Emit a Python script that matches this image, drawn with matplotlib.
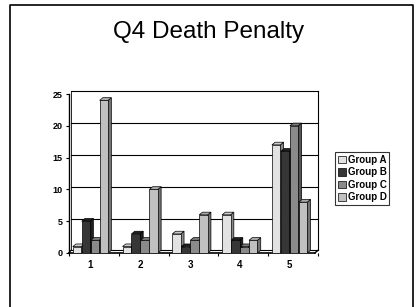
import numpy as np
import matplotlib.pyplot as plt
from matplotlib.lines import Line2D
from matplotlib.patches import Patch

# data
categories = ['1', '2', '3', '4', '5']
group_a = [1, 1, 3, 6, 17]
group_b = [5, 3, 1, 2, 16]
group_c = [2, 2, 2, 1, 20]
group_d = [24, 10, 6, 2, 8]
series_names = ['Group A', 'Group B', 'Group C', 'Group D']
y_ticks = [0, 5, 10, 15, 20, 25]

plt.rcParams['font.family'] = ['Liberation Sans', 'DejaVu Sans']

colors = ['#e2e2e2', '#363636', '#8a8a8a', '#c0c0c0']
offsets = [-0.27, -0.09, 0.09, 0.27]
width = 0.17
dx, dy = 0.065, 0.42   # fake 3d depth in data units


def shade(c, f):
    rgb = np.array(plt.matplotlib.colors.to_rgb(c))
    return np.clip(rgb * f, 0, 1)


fig = plt.figure(figsize=(4.17, 3.07), dpi=100)

# slide border
fig.add_artist(Line2D([10/417, 10/417, 413/417, 413/417], [0, 1 - 5/307, 1 - 5/307, 0],
                      transform=fig.transFigure, color='black', lw=1.2))

fig.text(0.5, 1 - 38/307, 'Q4 Death Penalty', ha='center', va='baseline', fontsize=17.5)

ax = fig.add_axes([69/417, 54/307, 249/417, 159/307])
x = np.arange(len(categories))
xmin, xmax = -0.43, 4.57
ax.set_xlim(xmin, xmax)
ax.set_ylim(0, 25)

# back wall gridlines
for t in y_ticks:
    ax.plot([xmin + dx * 0.6, xmax], [t + dy, t + dy], color='black', lw=0.8, clip_on=False, zorder=1)
ax.plot([xmin, xmin + dx * 0.6], [0, dy], color='black', lw=0.8, clip_on=False, zorder=1)
ax.plot([xmin + dx * 0.6, xmin + dx * 0.6], [dy, 25 + dy], color='black', lw=0.6, clip_on=False, zorder=1)
ax.plot([xmax, xmax], [dy, 25 + dy], color='black', lw=0.8, clip_on=False, zorder=1)
# floor
ax.plot([xmin, xmax - dx], [0, 0], color='black', lw=1.2, clip_on=False, zorder=2)
ax.plot([xmax - dx, xmax], [0, dy], color='black', lw=1.0, clip_on=False, zorder=2)

all_vals = [group_a, group_b, group_c, group_d]
z = 3
for vals, off, col in zip(all_vals, offsets, colors):
    for xi, v in zip(x, vals):
        left = xi + off - width / 2
        right = left + width
        # side face
        ax.fill([right, right + dx, right + dx, right], [0, dy, v + dy, v],
                color=shade(col, 0.6), ec='black', lw=0.5, zorder=z, clip_on=False)
        # top face
        ax.fill([left, left + dx, right + dx, right], [v, v + dy, v + dy, v],
                color=shade(col, 0.9) if col != '#363636' else '#202020',
                ec='black', lw=0.5, zorder=z, clip_on=False)
        # front face
        ax.bar(xi + off, v, width=width, color=col, edgecolor='black', lw=0.5, zorder=z + 0.5)
    z += 1

for s in ax.spines.values():
    s.set_visible(False)
ax.spines['left'].set_visible(True)
ax.spines['left'].set_linewidth(1.0)

ax.set_yticks(y_ticks)
ax.set_yticklabels([str(t) for t in y_ticks], fontsize=6.5, fontweight='bold')
ax.tick_params(axis='y', length=2.5, width=0.8, pad=2)
ax.set_xticks(x)
ax.set_xticklabels(categories, fontsize=7, fontweight='bold')
ax.tick_params(axis='x', length=0, pad=5)
ax.set_xticks(np.arange(len(categories) + 1) + xmin, minor=True)
ax.tick_params(axis='x', which='minor', length=2.5, width=0.8)
ax.patch.set_visible(False)

handles = [Patch(facecolor=c, edgecolor='black', lw=0.5) for c in colors]
leg = fig.legend(handles, series_names, loc='upper left',
                 bbox_to_anchor=(335/417, 1 - 152/307), frameon=True, fancybox=False,
                 prop={'size': 7, 'weight': 'bold'}, handlelength=0.8, handleheight=0.8,
                 handletextpad=0.2, labelspacing=0.25, borderpad=0.3, borderaxespad=0)
leg.get_frame().set_edgecolor('black')
leg.get_frame().set_linewidth(0.8)

fig.savefig('out.png', dpi=100)
